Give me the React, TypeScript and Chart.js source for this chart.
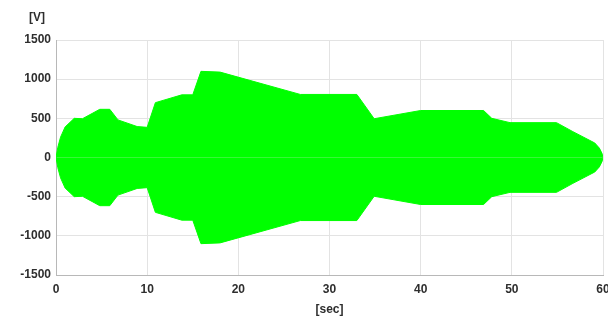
import React, { useEffect, useRef } from "react";
import { Chart, registerables } from "chart.js";

Chart.register(...registerables);

const timeSec = [0, 0.2, 0.5, 1, 2, 2.9, 4.8, 5.9, 6.8, 8.9, 10, 10.9, 13.8, 15, 15.9, 18, 26.8, 33, 34.9, 40, 46.9, 47.8, 49.8, 54.9, 56.7, 59.1, 59.6, 59.9, 60];
const upperV = [0, 130, 260, 390, 500, 495, 615, 615, 480, 395, 385, 700, 800, 800, 1100, 1090, 805, 805, 495, 600, 600, 500, 445, 445, 330, 185, 120, 50, 0];
const lowerV = [0, -130, -260, -390, -500, -495, -615, -615, -480, -395, -385, -700, -800, -800, -1100, -1090, -805, -805, -495, -600, -600, -500, -445, -445, -330, -185, -120, -50, 0];
const xTicks = [0, 10, 20, 30, 40, 50, 60];
const yTicks = [-1500, -1000, -500, 0, 500, 1000, 1500];

const FONT = "'Liberation Sans', Arial, sans-serif";
const GREEN = "#00ff00";
const TEXT = "#2e2e2e";

export default function App() {
  const ref = useRef<HTMLCanvasElement | null>(null);

  useEffect(() => {
    if (!ref.current) return;
    const topLabel = {
      id: "topLabel",
      afterDraw(chart: any) {
        const ctx = chart.ctx;
        ctx.save();
        ctx.fillStyle = TEXT;
        ctx.font = `bold 12px ${FONT}`;
        ctx.textAlign = "center";
        ctx.textBaseline = "middle";
        ctx.fillText("[V]", 37, 18);
        ctx.restore();
      },
    };
    const chart = new Chart(ref.current, {
      type: "line",
      data: {
        datasets: [
          {
            data: timeSec.map((t, i) => ({ x: t, y: upperV[i] })),
            backgroundColor: GREEN,
            borderColor: GREEN,
            borderWidth: 1,
            pointRadius: 0,
            fill: "origin",
            tension: 0,
          },
          {
            data: timeSec.map((t, i) => ({ x: t, y: lowerV[i] })),
            backgroundColor: GREEN,
            borderColor: GREEN,
            borderWidth: 1,
            pointRadius: 0,
            fill: "origin",
            tension: 0,
          },
        ],
      },
      options: {
        animation: false,
        responsive: false,
        maintainAspectRatio: false,
        layout: { padding: { left: 0, right: 5, top: 40, bottom: 0 } },
        plugins: { legend: { display: false }, tooltip: { enabled: false }, title: { display: false } },
        scales: {
          x: {
            type: "linear",
            min: 0,
            max: 60,
            afterBuildTicks(scale: any) {
              scale.ticks = xTicks.map((v) => ({ value: v }));
            },
            afterFit(scale: any) {
              scale.height = 45;
              scale.paddingLeft = 0;
              scale.paddingRight = 0;
            },
            grid: { color: "#e3e3e3", drawTicks: false, lineWidth: 1 },
            border: { color: "#b8b8b8", width: 1 },
            ticks: {
              color: TEXT,
              font: { family: FONT, size: 12, weight: "bold" },
              padding: 7,
              maxRotation: 0,
              callback: (v: any) => String(v),
            },
            title: {
              display: true,
              text: "[sec]",
              color: TEXT,
              font: { family: FONT, size: 12, weight: "bold" },
              padding: { top: 0, bottom: 3 },
            },
          },
          y: {
            type: "linear",
            min: -1500,
            max: 1500,
            afterBuildTicks(scale: any) {
              scale.ticks = yTicks.map((v) => ({ value: v }));
            },
            afterFit(scale: any) {
              scale.width = 56;
            },
            grid: { color: "#e3e3e3", drawTicks: false, lineWidth: 1 },
            border: { color: "#b8b8b8", width: 1 },
            ticks: {
              color: TEXT,
              font: { family: FONT, size: 12, weight: "bold" },
              padding: 5,
              callback: (v: any) => String(v),
            },
          },
        },
      },
      plugins: [topLabel],
    });
    return () => chart.destroy();
  }, []);

  return (
    <div style={{ position: "fixed", left: 0, top: 0, width: 608, height: 320, background: "#ffffff" }}>
      <canvas ref={ref} width={608} height={320} style={{ width: 608, height: 320, display: "block" }} />
    </div>
  );
}
